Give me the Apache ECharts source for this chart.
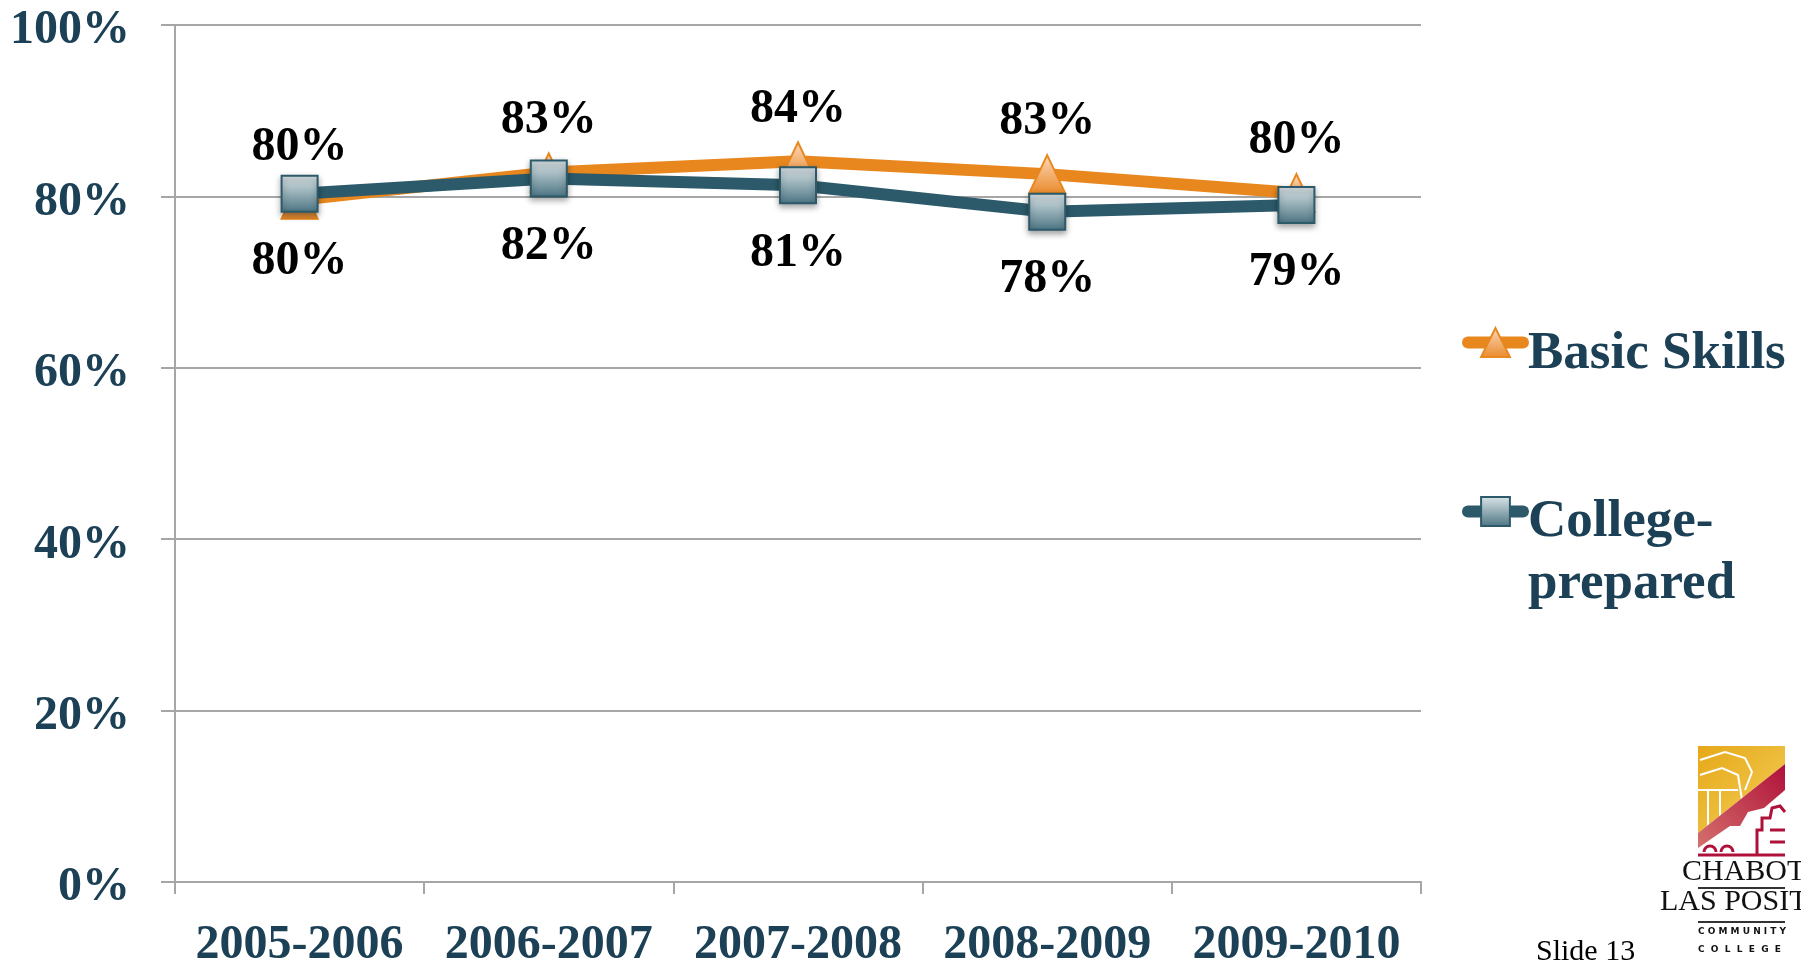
<!DOCTYPE html>
<html>
<head>
<meta charset="utf-8">
<script src="https://cdn.jsdelivr.net/npm/echarts@6/dist/echarts.min.js"></script>
<style>
  html, body { margin: 0; padding: 0; background: #fff; }
  #chart { width: 1801px; height: 962px; }
</style>
</head>
<body>
<div id="chart"></div>
<script>
var years = ['2005-2006', '2006-2007', '2007-2008', '2008-2009', '2009-2010'];
var basicSkills = [79.6, 82.8, 84.1, 82.6, 80.4];
var collegePrepared = [80.3, 82.1, 81.3, 78.2, 79.0];
var yTicks = [0, 20, 40, 60, 80, 100];

var serif = '"Times New Roman", "Liberation Serif", serif';
var navy = '#1c4055';
var orange = '#e8871e';
var teal = '#2c5a6a';
var gray = '#a6a6a6';

var myChart = echarts.init(document.getElementById('chart'));

function pct(p) { return Math.round(p.value) + '%'; }

// spacer line on top pushes the legend words down next to the icon
function legendText(spacer) {
    return {
        fontFamily: serif, fontWeight: 'bold', fontSize: 53, color: navy,
        rich: {
            s: { fontSize: 1, lineHeight: spacer },
            t: { fontFamily: serif, fontWeight: 'bold', fontSize: 53, color: navy, lineHeight: 62 }
        }
    };
}

myChart.setOption({
    backgroundColor: '#fff',
    animation: false,
    grid: { left: 175, right: 380, top: 25, bottom: 80, outerBoundsMode: 'none', containLabel: false },
    legend: [{
        data: ['Basic Skills'],
        left: 1462, top: 311, padding: 0,
        itemWidth: 55, itemHeight: 36,
        lineStyle: { width: 12, cap: 'round' },
        formatter: function (name) { return '{s| }\n{t|' + name + '}'; },
        textStyle: legendText(24)
    }, {
        data: ['College-prepared'],
        left: 1462, top: 449, padding: 0,
        itemWidth: 55, itemHeight: 36,
        lineStyle: { width: 12, cap: 'round' },
        formatter: function () { return '{s| }\n{t|College-}\n{t|prepared}'; },
        textStyle: legendText(84)
    }],
    xAxis: {
        type: 'category',
        data: years,
        boundaryGap: true,
        axisLine: { lineStyle: { color: gray, width: 2 } },
        axisTick: { show: true, length: 12, lineStyle: { color: gray, width: 2 } },
        axisLabel: {
            margin: 40, interval: 0,
            fontFamily: serif, fontWeight: 'bold', fontSize: 48, color: navy
        }
    },
    yAxis: {
        type: 'value',
        min: yTicks[0], max: yTicks[yTicks.length - 1], interval: 20,
        axisLine: { show: true, lineStyle: { color: gray, width: 2 } },
        axisTick: { show: true, length: 14, lineStyle: { color: gray, width: 2 } },
        splitLine: { lineStyle: { color: gray, width: 2 } },
        axisLabel: {
            margin: 45, formatter: '{value}%', verticalAlign: 'top', lineHeight: 12,
            fontFamily: serif, fontWeight: 'bold', fontSize: 48, color: navy
        }
    },
    series: [{
        name: 'Basic Skills',
        type: 'line',
        data: basicSkills,
        symbol: 'triangle',
        symbolSize: [36, 38],
        lineStyle: { color: orange, width: 12 },
        itemStyle: {
            color: new echarts.graphic.LinearGradient(0, 0, 0, 1, [
                { offset: 0, color: '#fbd9bd' },
                { offset: 1, color: '#ea8a2a' }
            ]),
            borderColor: orange, borderWidth: 2
        },
        label: {
            show: true, position: 'top', distance: 8, formatter: pct,
            fontFamily: serif, fontWeight: 'bold', fontSize: 48, color: '#000'
        },
        z: 2
    }, {
        name: 'College-prepared',
        type: 'line',
        data: collegePrepared,
        symbol: 'rect',
        symbolSize: [36, 36],
        lineStyle: { color: teal, width: 12 },
        itemStyle: {
            color: new echarts.graphic.LinearGradient(0, 0, 0, 1, [
                { offset: 0, color: '#dde6e9' },
                { offset: 1, color: '#4a7482' }
            ]),
            borderColor: teal, borderWidth: 2,
            shadowColor: 'rgba(0,0,0,0.35)', shadowBlur: 6, shadowOffsetY: 3
        },
        label: {
            show: true, position: 'bottom', distance: 25, formatter: pct,
            fontFamily: serif, fontWeight: 'bold', fontSize: 48, color: '#000'
        },
        z: 3
    }],
    graphic: [
        // logo (rough sketch)
        { type: 'polygon', shape: { points: [[1698, 746], [1785, 746], [1785, 764], [1698, 833]] },
          style: { fill: new echarts.graphic.LinearGradient(0, 0, 1, 1, [
              { offset: 0, color: '#e6a818' }, { offset: 1, color: '#f3cf5a' }]) } },
        { type: 'polyline', shape: { points: [[1700, 760], [1725, 752], [1745, 758], [1752, 772], [1745, 790]] },
          style: { stroke: '#fff', lineWidth: 2, fill: null } },
        { type: 'polyline', shape: { points: [[1700, 775], [1722, 768], [1738, 775], [1742, 800]] },
          style: { stroke: '#fff', lineWidth: 2, fill: null } },
        { type: 'line', shape: { x1: 1708, y1: 790, x2: 1708, y2: 826 }, style: { stroke: '#fff', lineWidth: 2 } },
        { type: 'line', shape: { x1: 1720, y1: 790, x2: 1720, y2: 816 }, style: { stroke: '#fff', lineWidth: 2 } },
        { type: 'line', shape: { x1: 1698, y1: 790, x2: 1738, y2: 790 }, style: { stroke: '#fff', lineWidth: 2 } },
        { type: 'polygon', shape: { points: [[1698, 833], [1785, 764], [1785, 790], [1764, 808], [1748, 812], [1740, 826], [1730, 826], [1698, 848]] },
          style: { fill: new echarts.graphic.LinearGradient(0, 1, 1, 0, [
              { offset: 0, color: '#d4706c' }, { offset: 1, color: '#b0113a' }]) } },
        { type: 'polyline', shape: { points: [[1757, 855], [1757, 830], [1762, 830], [1762, 818], [1770, 818], [1772, 808], [1780, 806], [1785, 812]] },
          style: { stroke: '#b0113a', lineWidth: 3, fill: null } },
        { type: 'line', shape: { x1: 1770, y1: 830, x2: 1785, y2: 830 }, style: { stroke: '#b0113a', lineWidth: 3 } },
        { type: 'line', shape: { x1: 1770, y1: 842, x2: 1785, y2: 842 }, style: { stroke: '#b0113a', lineWidth: 3 } },
        { type: 'arc', shape: { cx: 1710, cy: 852, r: 6, startAngle: Math.PI, endAngle: 2 * Math.PI }, style: { stroke: '#b0113a', lineWidth: 3, fill: null } },
        { type: 'arc', shape: { cx: 1727, cy: 852, r: 6, startAngle: Math.PI, endAngle: 2 * Math.PI }, style: { stroke: '#b0113a', lineWidth: 3, fill: null } },
        { type: 'line', shape: { x1: 1698, y1: 855, x2: 1785, y2: 855 }, style: { stroke: '#b0113a', lineWidth: 3 } },
        { type: 'text', left: 1682, top: 857,
          style: { text: 'CHABOT', font: '30px ' + serif, fill: '#111' } },
        { type: 'line', shape: { x1: 1698, y1: 888, x2: 1785, y2: 888 }, style: { stroke: '#333', lineWidth: 2 } },
        { type: 'text', left: 1660, top: 887,
          style: { text: 'LAS POSITAS', font: '30px ' + serif, fill: '#111' } },
        { type: 'line', shape: { x1: 1698, y1: 922, x2: 1785, y2: 922 }, style: { stroke: '#333', lineWidth: 2 } },
        { type: 'text', left: 1698, top: 927,
          style: { text: 'C O M M U N I T Y', font: 'bold 9px "DejaVu Sans", sans-serif', fill: '#111' } },
        { type: 'text', left: 1698, top: 945,
          style: { text: 'C  O  L  L  E  G  E', font: 'bold 9px "DejaVu Sans", sans-serif', fill: '#111' } },
        { type: 'text', left: 1536, top: 937,
          style: { text: 'Slide 13', font: '30px ' + serif, fill: '#000' } }
    ]
});
</script>
</body>
</html>
